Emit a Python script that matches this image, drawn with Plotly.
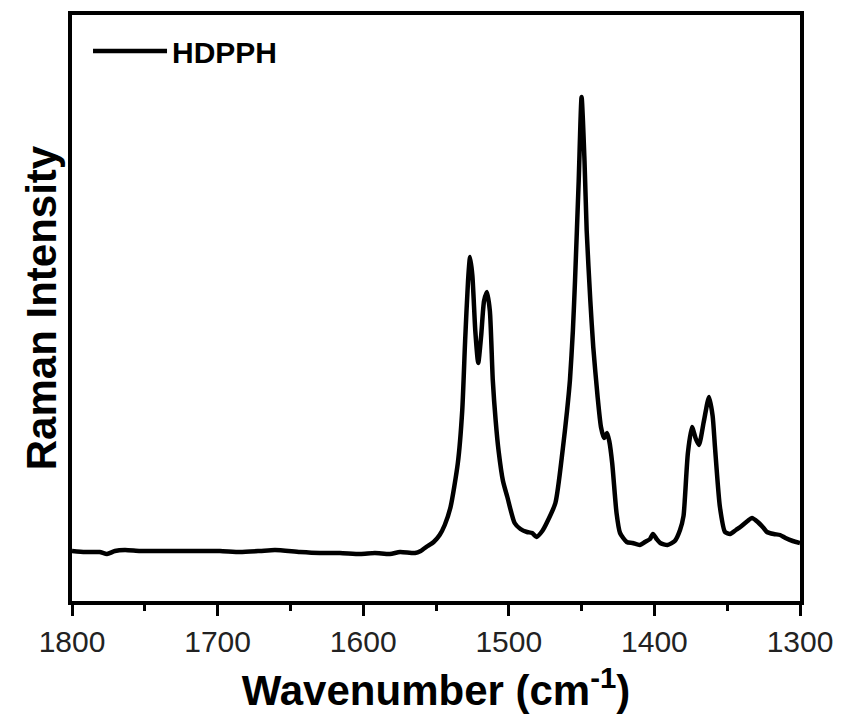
import plotly.graph_objects as go

# Raman spectrum of HDPPH (wavenumber in cm^-1, intensity in arbitrary units)
wavenumber = [
    1800, 1791, 1781, 1776, 1770.5, 1763.6, 1753.3, 1739.6, 1725.8, 1712, 1698.4,
    1684.6, 1671, 1660.6, 1643.4, 1629.7, 1616, 1602, 1592, 1581.6, 1574.7, 1564.4,
    1560.5, 1555.7, 1551.6, 1547.5, 1544, 1540, 1535, 1532, 1530, 1528, 1526.6,
    1525, 1523, 1521, 1519, 1517, 1515, 1513, 1511, 1509, 1507, 1504, 1501, 1496,
    1492, 1487.5, 1484, 1481, 1477, 1474, 1468, 1463, 1460, 1458, 1456, 1454.5,
    1452, 1450, 1448, 1446.5, 1444, 1442, 1439, 1436.7, 1434.6, 1432.6, 1431, 1429,
    1426, 1423.6, 1419, 1415, 1410, 1406.5, 1403, 1401, 1398.5, 1396, 1391, 1386,
    1382.4, 1380, 1379, 1377, 1374.2, 1371.5, 1369.4, 1366, 1362.5, 1360, 1358.4,
    1355, 1351.5, 1348, 1344, 1341, 1336, 1333, 1329, 1325, 1322.7, 1318, 1313.7,
    1310, 1305, 1300,
]
intensity = [
    50, 49, 49, 47, 50, 51, 50, 50, 50, 50, 50,
    49, 50, 51, 49, 48, 48, 47, 48, 47, 49, 48,
    50, 55, 59, 66, 76, 94, 138, 190, 260, 320, 344,
    325, 270, 238, 265, 300, 309, 290, 221, 180, 150, 120, 104, 78,
    72, 69, 68, 64, 70, 78, 98, 151, 190, 221, 270, 321,
    420, 504, 440, 370, 300, 254, 204, 174, 163, 168, 160, 138,
    88, 68, 59, 58, 56, 59, 62, 67, 62, 58, 56, 60,
    71, 85, 104, 148, 174, 162, 156, 180, 204, 185, 154,
    94, 69, 67, 71, 74, 80, 83, 79, 73, 69, 67, 66,
    63, 60, 58,
]
series_name = "HDPPH"
x_ticks = [1800, 1700, 1600, 1500, 1400, 1300]

FONT = "Arial, 'Liberation Sans', sans-serif"

fig = go.Figure()
fig.add_trace(go.Scatter(
    x=wavenumber, y=intensity, mode="lines", name=series_name,
    line=dict(color="black", width=4.5, shape="spline", smoothing=0.6),
))

fig.update_layout(
    width=844, height=726,
    margin=dict(l=72, r=44, t=15, b=125),
    paper_bgcolor="white", plot_bgcolor="white",
    font=dict(family=FONT, color="black"),
    showlegend=True,
    legend=dict(
        x=0.022, y=0.983, xanchor="left", yanchor="top",
        bgcolor="rgba(0,0,0,0)", borderwidth=0,
        font=dict(family=FONT, size=30, color="black", weight="bold"),
        itemwidth=74,
    ),
    xaxis=dict(
        range=[1800, 1300],
        tickvals=x_ticks, ticktext=[str(v) for v in x_ticks],
        ticks="outside", ticklen=11, tickwidth=3, tickcolor="black",
        minor=dict(ticks="outside", ticklen=6, tickwidth=3, tickcolor="black", dtick=50, showgrid=False),
        showline=True, linewidth=3.5, linecolor="black", mirror=True,
        showgrid=False, zeroline=False,
        tickfont=dict(family=FONT, size=30, color="#222"),
        title=dict(text="Wavenumber (cm<sup>-1</sup>)", standoff=20,
                   font=dict(family=FONT, size=42, color="black", weight="bold")),
    ),
    yaxis=dict(
        range=[0, 586],
        showticklabels=False, ticks="",
        showline=True, linewidth=3.5, linecolor="black", mirror=True,
        showgrid=False, zeroline=False,
        title=dict(text="Raman Intensity", standoff=0,
                   font=dict(family=FONT, size=42, color="black", weight="bold")),
    ),
)

fig.write_html("out.html")
